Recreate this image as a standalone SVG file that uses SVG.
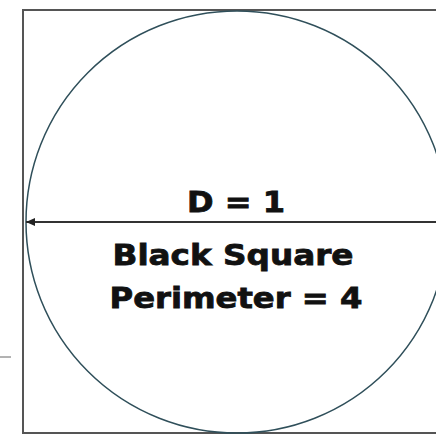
<svg xmlns="http://www.w3.org/2000/svg" width="436" height="435" viewBox="0 0 436 435">
<style>
.t{font-family:"DejaVu Sans",Verdana,sans-serif;font-weight:bold;font-size:28px;fill:#111;stroke:#111;stroke-width:0.8;text-anchor:middle}
</style>
<defs>
<marker id="ah" markerWidth="10" markerHeight="8" refX="9" refY="4" orient="auto" markerUnits="userSpaceOnUse">
<path d="M0,0 L9,4 L0,8 Z" fill="#222"/>
</marker>
</defs>
<rect width="436" height="435" fill="#fff"/>
<g id="square"><rect x="23" y="10" width="440" height="423" fill="none" stroke="#555" stroke-width="2"/></g>
<g id="circle"><circle cx="237" cy="222" r="211" fill="none" stroke="#2f4f5a" stroke-width="1.5"/></g>
<g id="connectors">
<line x1="440" y1="222" x2="26" y2="222" stroke="#333" stroke-width="2" marker-end="url(#ah)"/>
<line x1="0" y1="357" x2="11" y2="357" stroke="#666" stroke-width="1"/>
</g>
<g id="labels">
<text class="t" x="236" y="212" textLength="98" lengthAdjust="spacingAndGlyphs">D = 1</text>
<text class="t" x="233" y="265" textLength="241" lengthAdjust="spacingAndGlyphs">Black Square</text>
<text class="t" x="236" y="308" textLength="253" lengthAdjust="spacingAndGlyphs">Perimeter = 4</text>
</g>
</svg>
